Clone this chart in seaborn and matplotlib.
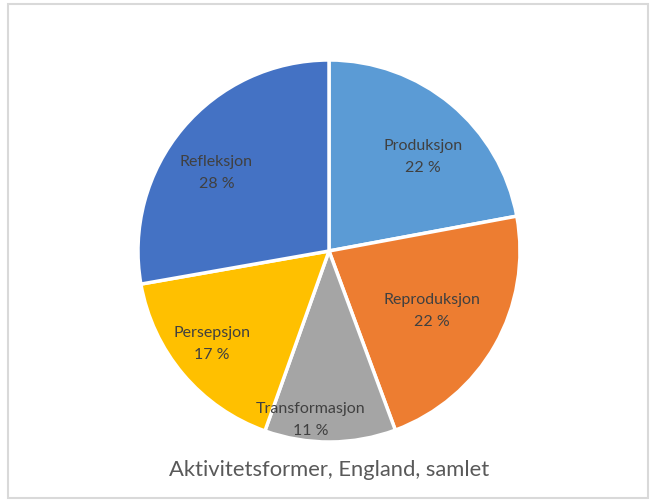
import matplotlib
matplotlib.use("Agg")
import matplotlib.pyplot as plt
import numpy as np
import seaborn as sns

# Data (shares in %)
kategorier = ["Produksjon", "Reproduksjon", "Transformasjon", "Persepsjon", "Refleksjon"]
andeler = [22.1, 22.3, 11.1, 16.8, 27.8]
farger = ["#5B9BD5", "#ED7D31", "#A5A5A5", "#FFC000", "#4472C4"]
tittel = "Aktivitetsformer, England, samlet"

sns.set_theme(style="white")
plt.rcParams["font.family"] = ["Lato", "DejaVu Sans"]

W, H = 650, 502
fig = plt.figure(figsize=(W / 100, H / 100), dpi=100)

# pie centre (329, 252) px, radius 191 px
cx, cy, r = 329, 252, 191
ax = fig.add_axes([(cx - r) / W, (H - cy - r) / H, 2 * r / W, 2 * r / H])

palette = sns.color_palette(farger)
wedges, _ = ax.pie(andeler, colors=palette, startangle=90, counterclock=False,
                   wedgeprops=dict(edgecolor="white", linewidth=2.5))
ax.set_xlim(-1, 1); ax.set_ylim(-1, 1)
ax.set_aspect("equal")
ax.axis("off")

# label placement (Excel "best fit"): distance as fraction of radius, angle nudge in degrees
avstand = [0.70, 0.62, 0.885, 0.78, 0.72]
vinkel = [-5, -0.5, -6.5, -2, 5]
total = sum(andeler)
for w, navn, v, d, dv in zip(wedges, kategorier, andeler, avstand, vinkel):
    mid = np.deg2rad((w.theta1 + w.theta2) / 2 + dv)
    ax.text(d * np.cos(mid), d * np.sin(mid), f"{navn}\n{round(v / total * 100)} %",
            ha="center", va="center", fontsize=11.5, color="#404040", linespacing=1.75)

fig.text(cx / W, 1 - 470 / H, tittel, ha="center", va="center", fontsize=15.8, color="#595959")

fig.patches.append(plt.Rectangle((8 / W, 3 / H), 640 / W, 494 / H, transform=fig.transFigure,
                                 fill=False, edgecolor="#D9D9D9", linewidth=1.5))

fig.savefig("out.png", dpi=100)
